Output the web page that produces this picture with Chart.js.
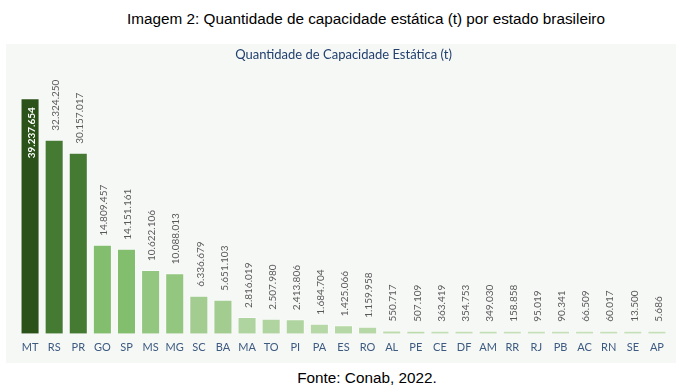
<!DOCTYPE html>
<html>
<head>
<meta charset="utf-8">
<script src="https://cdn.jsdelivr.net/npm/chart.js@4"></script>
<style>
    body { margin: 0; background: #ffffff; width: 676px; height: 391px; position: relative; overflow: hidden; }
    #caption { position: absolute; top: 10px; left: 0; width: 732px; text-align: center; font-family: "Liberation Sans", Arial, sans-serif; font-size: 15.3px; color: #000; }
    #box { position: absolute; left: 6px; top: 44px; width: 670px; height: 319px; background: #f6f8f6; }
    #footer { position: absolute; top: 369px; left: 0; width: 734px; text-align: center; font-family: "Liberation Sans", Arial, sans-serif; font-size: 15.3px; color: #000; }
</style>
</head>
<body>
<div id="caption">Imagem 2: Quantidade de capacidade estática (t) por estado brasileiro</div>
<div id="box"><canvas id="capacityChart"></canvas></div>
<div id="footer">Fonte: Conab, 2022.</div>
<script>
const STATES = ['MT', 'RS', 'PR', 'GO', 'SP', 'MS', 'MG', 'SC', 'BA', 'MA', 'TO', 'PI', 'PA', 'ES',
    'RO', 'AL', 'PE', 'CE', 'DF', 'AM', 'RR', 'RJ', 'PB', 'AC', 'RN', 'SE', 'AP'];

const CAPACITY = [39237654, 32324250, 30157017, 14809457, 14151161, 10622106, 10088013, 6336679,
    5651103, 2816019, 2507980, 2413806, 1684704, 1425066, 1159958, 550717, 507109, 363419,
    354753, 349030, 158858, 95019, 90341, 66509, 60017, 13500, 5686];

const BAR_COLORS = [
    '#2b5219', '#457a32', '#457a32', '#83be6e', '#83be6e', '#93c67f', '#93c67f', '#a3cd90',
    '#a3cd90', '#b0d49f', '#b0d49f', '#b0d49f', '#b6d7a6', '#b6d7a6', '#b6d7a6', '#bcdbad',
    '#bcdbad', '#c2deb4', '#c2deb4', '#c2deb4', '#c5e0b8', '#c5e0b8', '#c5e0b8', '#c5e0b8',
    '#c5e0b8', '#c5e0b8', '#c5e0b8'
];

function formatBR(n) {
    return String(n).replace(/\B(?=(\d{3})+(?!\d))/g, '.');
}

// draws the rotated value above each bar (first one inside, in white)
const valueLabels = {
    id: 'valueLabels',
    afterDatasetsDraw(chart) {
        const ctx = chart.ctx;
        const meta = chart.getDatasetMeta(0);
        meta.data.forEach(function (bar, i) {
            const text = formatBR(CAPACITY[i]);
            ctx.save();
            ctx.textBaseline = 'middle';
            if (i === 0) {
                ctx.translate(bar.x + 1.5, bar.y + 9);
                ctx.rotate(-Math.PI / 2);
                ctx.textAlign = 'right';
                ctx.fillStyle = '#ffffff';
                ctx.font = 'bold 10px Lato';
            } else {
                ctx.translate(bar.x + 1.5, bar.y - 9);
                ctx.rotate(-Math.PI / 2);
                ctx.textAlign = 'left';
                ctx.fillStyle = '#595959';
                ctx.font = '10px Lato';
            }
            ctx.fillText(text, 0, 0);
            ctx.restore();
        });
    }
};

const ctxCapacity = document.getElementById('capacityChart');

var data = {
    labels: STATES,
    datasets: [
        {
            label: 'Capacidade estática (t)',
            data: CAPACITY,
            backgroundColor: BAR_COLORS,
            borderColor: 'rgba(255, 255, 255, 0.45)',
            borderWidth: 1,
            minBarLength: 3,
            barPercentage: 0.79,
            categoryPercentage: 1.0,
        }
    ]
};

var config = {
    type: 'bar',
    data: data,
    options: {
        responsive: true,
        maintainAspectRatio: false,
        animation: false,
        layout: {
            padding: { left: 12, right: 7, top: 0, bottom: 2 }
        },
        scales: {
            x: {
                grid: { display: false, drawTicks: false },
                border: { display: false },
                ticks: {
                    color: '#3d5a80',
                    font: { family: 'Lato', size: 11 },
                    padding: 7,
                    maxRotation: 0,
                    autoSkip: false
                }
            },
            y: {
                display: false,
                min: 0,
                max: 42000000
            }
        },
        plugins: {
            legend: { display: false },
            tooltip: { enabled: false },
            title: {
                display: true,
                text: 'Quantidade de Capacidade Estática (t)',
                color: '#23406e',
                font: { family: 'Lato', size: 13, weight: 'normal' },
                padding: { top: 3, bottom: 19 }
            }
        }
    },
    plugins: [valueLabels]
};

var chartCapacity = new Chart(ctxCapacity, config);
</script>
</body>
</html>
